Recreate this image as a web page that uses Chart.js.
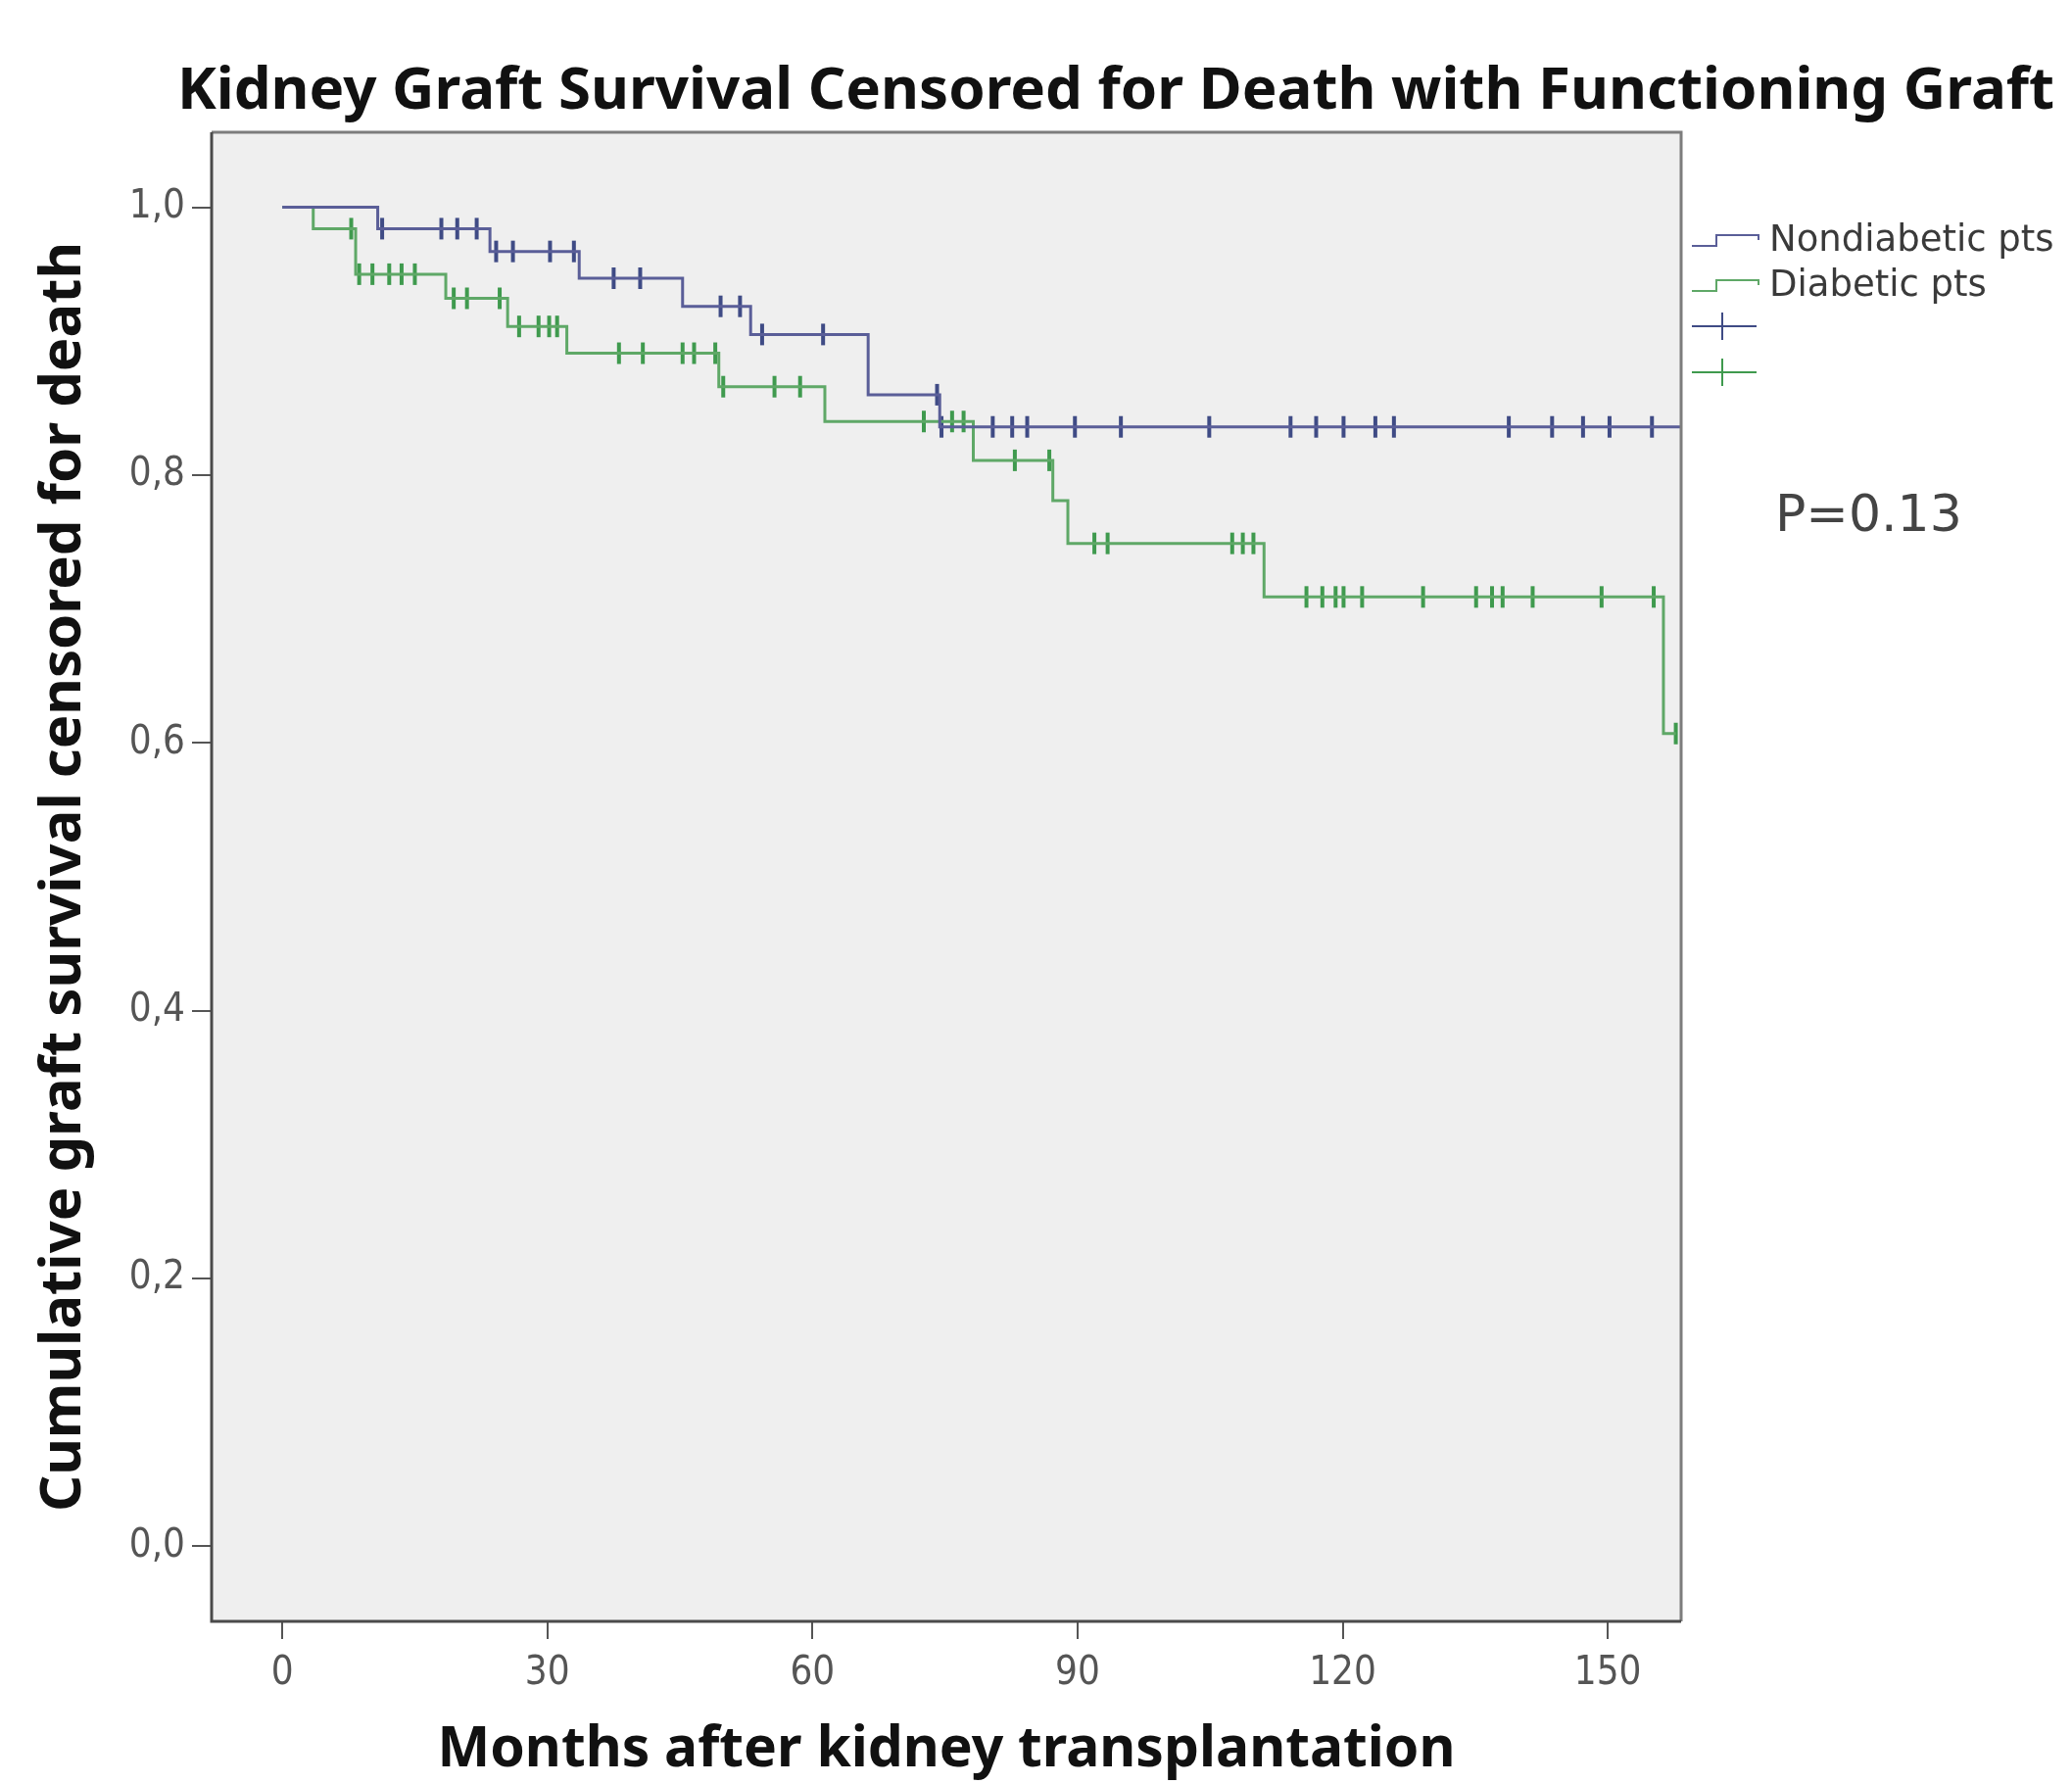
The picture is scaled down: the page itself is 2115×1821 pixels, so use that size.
<!DOCTYPE html>
<html>
<head>
<meta charset="utf-8">
<title>Kidney Graft Survival</title>
<script src="https://cdn.jsdelivr.net/npm/chart.js@4.4.1/dist/chart.umd.min.js"></script>
<style>
  html, body { margin: 0; padding: 0; background: #fff; }
  #wrap { width: 2115px; height: 1821px; }
</style>
</head>
<body>
<div id="wrap"><canvas id="myCanvas" width="2115" height="1821"></canvas></div>
<script>
'use strict';

// text
const chartTitle = 'Kidney Graft Survival Censored for Death with Functioning Graft';
const xTitle = 'Months after kidney transplantation';
const yTitle = 'Cumulative graft survival censored for death';
const seriesNames = ['Nondiabetic pts', 'Diabetic pts'];
const pValueText = 'P=0.13';

// ticks
const xTicks = [0, 30, 60, 90, 120, 150];
const yTicks = [0, 0.2, 0.4, 0.6, 0.8, 1.0];
const yTickLabels = ['0,0', '0,2', '0,4', '0,6', '0,8', '1,0'];

// nondiabetic pts: time of each step and the survival after it
const nondiabeticTimes = [0, 10.8, 23.5, 33.6, 45.3, 53.0, 66.3, 74.4, 158.3];
const nondiabeticSurvival = [1.0, 0.984, 0.967, 0.947, 0.926, 0.905, 0.860, 0.836, 0.836];
const nondiabeticCensorTimes = [11.3, 18.0, 19.8, 22.0, 24.2, 26.1, 30.3, 33.0, 37.5, 40.5,
  49.6, 51.8, 54.3, 61.2, 74.1, 74.6, 80.4, 82.6, 84.3, 89.7, 94.9, 104.9, 114.1, 117.0,
  120.1, 123.7, 125.8, 138.8, 143.7, 147.2, 150.2, 155.0];
const nondiabeticCensorSurvival = [0.984, 0.984, 0.984, 0.984, 0.967, 0.967, 0.967, 0.967, 0.947, 0.947,
  0.926, 0.926, 0.905, 0.905, 0.860, 0.836, 0.836, 0.836, 0.836, 0.836, 0.836, 0.836, 0.836, 0.836,
  0.836, 0.836, 0.836, 0.836, 0.836, 0.836, 0.836, 0.836];

// diabetic pts
const diabeticTimes = [0, 3.5, 8.3, 18.5, 25.5, 32.2, 49.4, 61.4, 78.2, 87.2, 88.9, 111.1, 156.3, 157.7];
const diabeticSurvival = [1.0, 0.984, 0.950, 0.932, 0.911, 0.891, 0.866, 0.840, 0.811, 0.781, 0.749, 0.709, 0.607, 0.607];
const diabeticCensorTimes = [7.8, 8.7, 10.2, 12.1, 13.5, 15.0, 19.4, 20.9, 24.6, 26.8, 29.0, 30.2, 31.1,
  38.1, 40.8, 45.3, 46.6, 49.0, 49.9, 55.7, 58.6, 72.6, 75.8, 77.1, 82.9, 86.8,
  91.9, 93.4, 107.5, 108.7, 109.9, 115.9, 117.7, 119.2, 120.1, 122.2, 129.1, 135.1, 136.9,
  138.1, 141.5, 149.3, 155.2, 157.7];
const diabeticCensorSurvival = [0.984, 0.950, 0.950, 0.950, 0.950, 0.950, 0.932, 0.932, 0.932, 0.911, 0.911, 0.911, 0.911,
  0.891, 0.891, 0.891, 0.891, 0.891, 0.866, 0.866, 0.866, 0.840, 0.840, 0.840, 0.811, 0.811,
  0.749, 0.749, 0.749, 0.749, 0.749, 0.709, 0.709, 0.709, 0.709, 0.709, 0.709, 0.709, 0.709,
  0.709, 0.709, 0.709, 0.709, 0.607];

// colours
const blueLine = '#5a5e98';
const greenLine = '#5fa867';
const blueMark = '#3f4b85';
const greenMark = '#3f9a4e';

function toPoints(xs, ys) {
  return xs.map((x, i) => ({ x: x, y: ys[i] }));
}

// background, frame, title, legend and p value
const decorations = {
  id: 'decorations',
  beforeDraw(chart) {
    const ctx = chart.ctx;
    const a = chart.chartArea;
    ctx.save();
    ctx.fillStyle = '#ffffff';
    ctx.fillRect(0, 0, chart.width, chart.height);
    ctx.fillStyle = '#efefef';
    ctx.fillRect(a.left, a.top, a.right - a.left, a.bottom - a.top);
    ctx.restore();
  },
  afterDraw(chart) {
    const ctx = chart.ctx;
    const a = chart.chartArea;
    ctx.save();

    // frame
    ctx.lineWidth = 3;
    ctx.strokeStyle = '#7d7d7d';
    ctx.beginPath();
    ctx.moveTo(a.left, a.top);
    ctx.lineTo(a.right, a.top);
    ctx.lineTo(a.right, a.bottom);
    ctx.stroke();
    ctx.strokeStyle = '#4a4a4a';
    ctx.beginPath();
    ctx.moveTo(a.left, a.top);
    ctx.lineTo(a.left, a.bottom);
    ctx.lineTo(a.right, a.bottom);
    ctx.stroke();

    // title
    ctx.fillStyle = '#111';
    ctx.textAlign = 'center';
    ctx.textBaseline = 'middle';
    ctx.font = 'bold 60px "Noto Sans", "DejaVu Sans", sans-serif';
    ctx.fillText(chartTitle, 1139, 94);

    // legend
    ctx.lineWidth = 2;
    const rows = [245, 291];
    const cols = [blueLine, greenLine];
    for (let i = 0; i < 2; i++) {
      const y = rows[i];
      ctx.strokeStyle = cols[i];
      ctx.beginPath();
      ctx.moveTo(1727, y + 6);
      ctx.lineTo(1752, y + 6);
      ctx.lineTo(1752, y - 5);
      ctx.lineTo(1795, y - 5);
      ctx.lineTo(1795, y);
      ctx.stroke();
      ctx.fillStyle = '#3a3a3a';
      ctx.textAlign = 'left';
      ctx.font = '37px "DejaVu Sans", sans-serif';
      ctx.fillText(seriesNames[i], 1806, y + 1);
    }
    const marks = [[333, blueMark], [380, greenMark]];
    for (const [y, c] of marks) {
      ctx.strokeStyle = c;
      ctx.beginPath();
      ctx.moveTo(1727, y);
      ctx.lineTo(1793, y);
      ctx.moveTo(1758, y - 14);
      ctx.lineTo(1758, y + 14);
      ctx.stroke();
    }

    // p value
    ctx.fillStyle = '#444';
    ctx.textAlign = 'left';
    ctx.font = '52px "DejaVu Sans", sans-serif';
    ctx.fillText(pValueText, 1812, 528);
    ctx.restore();
  }
};

const tickFont = { family: '"DejaVu Sans Condensed", "Liberation Sans Narrow", sans-serif', size: 40 };
const axisTitleFont = { family: '"Noto Sans", "DejaVu Sans", sans-serif', size: 57, weight: 'bold' };

const config = {
  type: 'line',
  data: {
    datasets: [{
      label: seriesNames[0],
      data: toPoints(nondiabeticTimes, nondiabeticSurvival),
      stepped: 'before',
      borderColor: blueLine,
      borderWidth: 3,
      pointRadius: 0,
      fill: false
    },
    {
      label: seriesNames[1],
      data: toPoints(diabeticTimes, diabeticSurvival),
      stepped: 'before',
      borderColor: greenLine,
      borderWidth: 3,
      pointRadius: 0,
      fill: false
    },
    {
      label: seriesNames[0] + ' censored',
      data: toPoints(nondiabeticCensorTimes, nondiabeticCensorSurvival),
      showLine: false,
      pointStyle: 'line',
      rotation: 90,
      pointRadius: 11,
      pointBorderWidth: 4,
      pointBorderColor: blueMark,
      borderColor: blueMark
    },
    {
      label: seriesNames[1] + ' censored',
      data: toPoints(diabeticCensorTimes, diabeticCensorSurvival),
      showLine: false,
      pointStyle: 'line',
      rotation: 90,
      pointRadius: 11,
      pointBorderWidth: 4,
      pointBorderColor: greenMark,
      borderColor: greenMark
    }]
  },
  options: {
    responsive: false,
    animation: false,
    devicePixelRatio: 1,
    events: [],
    layout: {
      padding: { top: 135, right: 399, bottom: 0, left: 0 }
    },
    plugins: {
      legend: { display: false },
      title: { display: false },
      tooltip: { enabled: false }
    },
    scales: {
      x: {
        type: 'linear',
        min: -8,
        max: 158.3,
        afterBuildTicks: (axis) => { axis.ticks = xTicks.map(v => ({ value: v })); },
        afterFit: (axis) => { axis.height = 166; },
        border: { display: false },
        grid: { drawOnChartArea: false, drawTicks: true, tickLength: 18, color: '#555', lineWidth: 2 },
        ticks: {
          padding: 12,
          color: '#555',
          font: tickFont,
          maxRotation: 0,
          callback: (value) => String(value)
        },
        title: {
          display: true,
          text: xTitle,
          color: '#111',
          font: axisTitleFont,
          padding: { top: 0, bottom: 0 }
        }
      },
      y: {
        type: 'linear',
        min: -0.056,
        max: 1.056,
        afterBuildTicks: (axis) => { axis.ticks = yTicks.map(v => ({ value: v })); },
        afterFit: (axis) => { axis.width = 216; },
        border: { display: false },
        grid: { drawOnChartArea: false, drawTicks: true, tickLength: 20, color: '#555', lineWidth: 2 },
        ticks: {
          padding: 7,
          color: '#555',
          font: tickFont,
          callback: (value, index) => yTickLabels[index]
        },
        title: {
          display: true,
          text: yTitle,
          color: '#111',
          font: { family: axisTitleFont.family, size: 58, weight: 'bold' },
          padding: { top: 31, bottom: 0 }
        }
      }
    }
  },
  plugins: [decorations]
};

const myChart = new Chart(document.getElementById('myCanvas'), config);
</script>
</body>
</html>
